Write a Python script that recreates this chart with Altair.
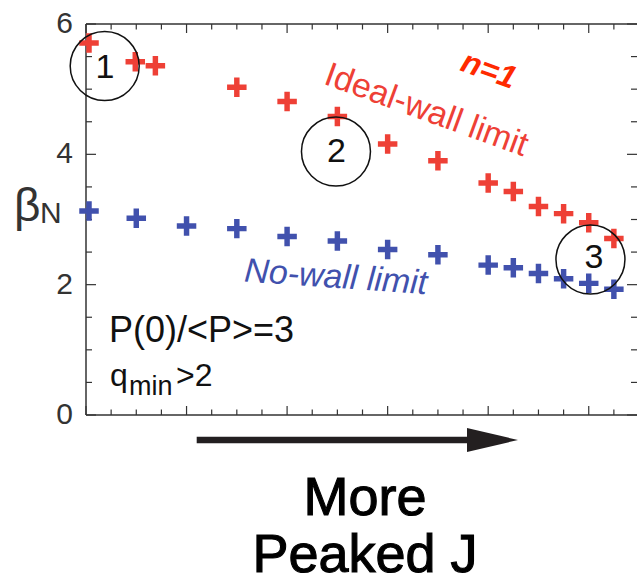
import altair as alt
import pandas as pd

# beta_N stability limits along a scan towards more peaked current profiles
ideal_x = [0.03, 0.49, 0.69, 1.5, 2.0, 2.5, 3.0, 3.5, 4.0, 4.25, 4.5, 4.75, 5.0, 5.25]
ideal_beta = [5.71, 5.42, 5.36, 5.03, 4.81, 4.58, 4.16, 3.90, 3.56, 3.43, 3.20, 3.09, 2.95, 2.71]
nowall_x = [0.03, 0.5, 1.0, 1.5, 2.0, 2.5, 3.0, 3.5, 4.0, 4.25, 4.5, 4.75, 5.0, 5.25]
nowall_beta = [3.13, 3.02, 2.90, 2.86, 2.74, 2.67, 2.54, 2.46, 2.30, 2.26, 2.17, 2.09, 2.02, 1.93]

# axis ticks
y_labels = [0, 2, 4, 6]
y_minor = [0.5, 1, 1.5, 2.5, 3, 3.5, 4.5, 5, 5.5]
x_major = [0, 1, 2, 3, 4, 5]
x_minor = [0.25, 0.5, 0.75, 1.25, 1.5, 1.75, 2.25, 2.5, 2.75, 3.25, 3.5, 3.75,
           4.25, 4.5, 4.75, 5.25]

# highlighted cases 1-3
case_labels = ["1", "2", "3"]
case_x = [0.186, 2.486, 5.017]
case_y = [5.355, 4.043, 2.386]
case_label_x = [0.189, 2.491, 5.052]
case_label_y = [5.171, 3.887, 2.256]

W, H = 551, 391
FONT = "Liberation Sans, Arial, Helvetica, sans-serif"
FRAME = "#333333"
RED = "#ee4036"
BLUE = "#4151ad"
INK = "#111111"

x_scale = alt.Scale(domain=[0, 5.48], nice=False, zero=False)
y_scale = alt.Scale(domain=[0, 6], nice=False, zero=False)

PLUS = "M-1,-0.28H-0.28V-1H0.28V-0.28H1V0.28H0.28V1H-0.28V0.28H-1Z"
HEAD = "M-1,-0.47L1,0L-1,0.47Z"

one = pd.DataFrame({"k": [0]})


def X(field):
    return alt.X(field, type="quantitative", scale=x_scale, axis=None)


def Y(field):
    return alt.Y(field, type="quantitative", scale=y_scale, axis=None)


# frame (left, top, bottom)
frame = [
    alt.Chart(one).mark_rule(color=FRAME, strokeWidth=1.5).encode(
        x=alt.value(0), y=alt.value(0), y2=alt.value(H)),
    alt.Chart(one).mark_rule(color=FRAME, strokeWidth=1.5).encode(
        x=alt.value(0), x2=alt.value(W), y=alt.value(0)),
    alt.Chart(one).mark_rule(color=FRAME, strokeWidth=1.5).encode(
        x=alt.value(0), x2=alt.value(W), y=alt.value(H)),
]


def yticks(vals, length):
    df = pd.DataFrame({"v": vals})
    return [
        alt.Chart(df).mark_rule(color=FRAME, strokeWidth=1.2).encode(
            y=Y("v"), x=alt.value(0), x2=alt.value(length)),
        alt.Chart(df).mark_rule(color=FRAME, strokeWidth=1.2).encode(
            y=Y("v"), x=alt.value(W - length), x2=alt.value(W)),
    ]


def xticks(vals, length):
    df = pd.DataFrame({"v": vals})
    return [
        alt.Chart(df).mark_rule(color=FRAME, strokeWidth=1.2).encode(
            x=X("v"), y=alt.value(H - length), y2=alt.value(H)),
        alt.Chart(df).mark_rule(color=FRAME, strokeWidth=1.2).encode(
            x=X("v"), y=alt.value(0), y2=alt.value(length)),
    ]


ticks = yticks(y_labels, 10) + yticks(y_minor, 6) + xticks(x_major, 9) + xticks(x_minor, 5.5)

ylab = alt.Chart(pd.DataFrame({"v": y_labels})).mark_text(
    align="right", baseline="middle", font=FONT, fontSize=30, color=FRAME
).encode(y=Y("v"), x=alt.value(-13), text="v:Q")

beta = alt.Chart(pd.DataFrame({"t": ["β"]})).mark_text(
    align="left", baseline="alphabetic", font=FONT, fontSize=46, color=FRAME
).encode(x=alt.value(-72), y=alt.value(197), text="t:N")
beta_sub = alt.Chart(pd.DataFrame({"t": ["N"]})).mark_text(
    align="left", baseline="alphabetic", font=FONT, fontSize=30, color=FRAME
).encode(x=alt.value(-46), y=alt.value(199), text="t:N")

pts = pd.DataFrame({
    "x": ideal_x + nowall_x,
    "beta": ideal_beta + nowall_beta,
    "series": ["Ideal-wall limit"] * len(ideal_x) + ["No-wall limit"] * len(nowall_x),
})
points = alt.Chart(pts).mark_point(
    shape=PLUS, filled=True, size=380, opacity=1, strokeWidth=0
).encode(
    x=X("x"), y=Y("beta"),
    color=alt.Color("series:N", legend=None,
                    scale=alt.Scale(domain=["Ideal-wall limit", "No-wall limit"],
                                    range=[RED, BLUE])),
)

cases = pd.DataFrame({"x": case_x, "y": case_y, "lx": case_label_x,
                      "ly": case_label_y, "t": case_labels})
rings = alt.Chart(cases).mark_point(
    shape="circle", filled=False, size=4761, color=INK, strokeWidth=1.5, opacity=1
).encode(x=X("x"), y=Y("y"))
ring_text = alt.Chart(cases).mark_text(
    align="center", baseline="alphabetic", font=FONT, fontSize=34, color=INK
).encode(x=X("lx"), y=Y("ly"), text="t:N")


def note(text, x, y, size, color, angle=0, style="normal", weight="normal",
         align="center"):
    df = pd.DataFrame({"t": [text], "x": [x], "y": [y]})
    return alt.Chart(df).mark_text(
        align=align, baseline="alphabetic", font=FONT, fontSize=size,
        color=color, angle=angle, fontStyle=style, fontWeight=weight
    ).encode(x=X("x"), y=Y("y"), text="t:N")


notes = [
    note("Ideal-wall limit", 3.35, 4.526, 34, RED, angle=20),
    note("n=1", 3.971, 5.148, 32, "#ff2a00", angle=20, style="italic", weight="bold"),
    note("No-wall limit", 2.477, 1.952, 34, BLUE, angle=4, style="italic"),
    note("P(0)/<P>=3", 0.229, 1.120, 36, INK, align="left"),
    note("q", 0.239, 0.445, 32, INK, align="left"),
    note("min", 0.428, 0.307, 27, INK, align="left"),
    note(">2", 0.895, 0.445, 32, INK, align="left"),
]

arrow_df = pd.DataFrame({"x0": [1.101], "x1": [3.82], "hx": [4.043]})
shaft = alt.Chart(arrow_df).mark_rule(color="#231f20", strokeWidth=6.5).encode(
    x=X("x0"), x2="x1:Q", y=alt.value(416))
head = alt.Chart(arrow_df).mark_point(
    shape=HEAD, filled=True, size=2601, color="#231f20", opacity=1, strokeWidth=0
).encode(x=X("hx"), y=alt.value(416))

caption = [
    alt.Chart(pd.DataFrame({"t": [t]})).mark_text(
        align="center", baseline="alphabetic", font=FONT, fontSize=54,
        fill="#000000", stroke="#000000", strokeWidth=1.1
    ).encode(x=alt.value(279), y=alt.value(yy), text="t:N")
    for t, yy in [("More", 491), ("Peaked J", 548)]
]

chart = alt.layer(
    *frame, *ticks, ylab, beta, beta_sub, points, rings, ring_text, *notes,
    shaft, head, *caption
).properties(
    width=W, height=H, autosize="none",
    padding={"left": 86, "top": 24, "right": 0, "bottom": 162},
    background="white",
).configure_view(stroke=None)

chart.save("out.html", embed_options={"renderer": "svg", "actions": False})
